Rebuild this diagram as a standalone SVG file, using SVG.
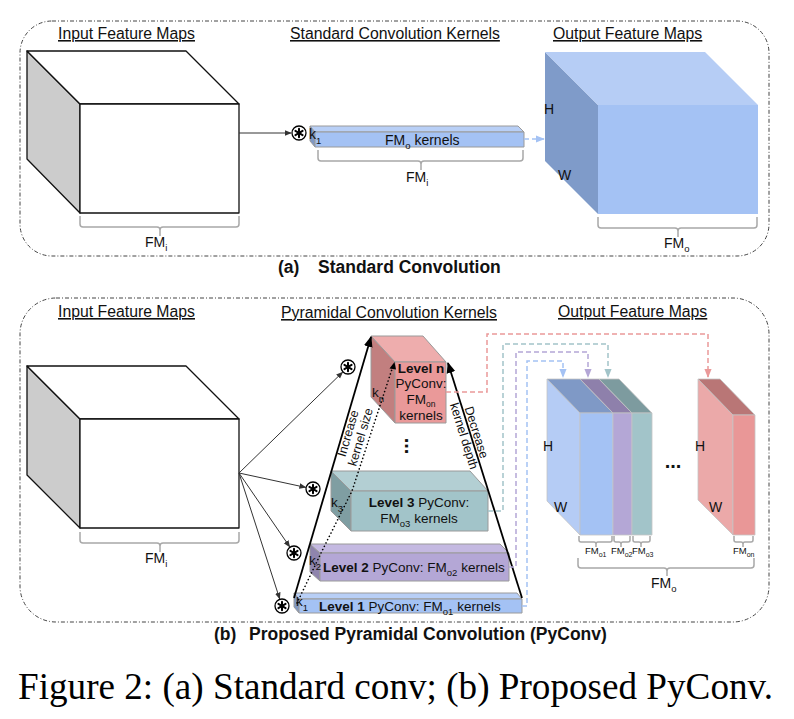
<svg xmlns="http://www.w3.org/2000/svg" width="794" height="719" viewBox="0 0 794 719">
<defs>
<style>
text{font-family:"Liberation Sans",Arial,sans-serif;fill:#111}
.title{font-size:15.8px;text-decoration:underline}
.lbl{font-size:14px}
.sm{font-size:9.5px}
.lv{font-size:13.5px}
.rot{font-size:12.5px}
.cap{font-size:17.5px;font-weight:bold}
.fig{font-family:"Liberation Serif","Times New Roman",serif;font-size:38px;fill:#000}
.b{font-weight:bold}
.border{fill:none;stroke:#444;stroke-width:1;stroke-dasharray:4 2 1 2}
.edge{stroke:#111;stroke-width:1.3;stroke-linejoin:round}
.box{stroke:#9a9a9a;stroke-width:1;stroke-linejoin:round}
.oblk{stroke:#c4c4c4;stroke-width:0.8;stroke-linejoin:round}
.brace{fill:none;stroke:#a8a8a8;stroke-width:1.5}
.conn{fill:none;stroke:#333;stroke-width:1}
.pyr{fill:none;stroke:#000;stroke-width:1.8}
.dot{fill:none;stroke:#000;stroke-width:1.6;stroke-dasharray:0.1 3.6;stroke-linecap:round}
.dash{fill:none;stroke-width:1.5;stroke-dasharray:5 3}
.op{fill:#fff;stroke:#000;stroke-width:1.3}
.ast{stroke:#000;stroke-width:2;stroke-linecap:round}
</style>
<marker id="ah" viewBox="0 0 10 10" refX="9" refY="5" markerWidth="7" markerHeight="7" orient="auto" markerUnits="userSpaceOnUse"><path d="M0,1 L10,5 L0,9 z" fill="#333"/></marker>
<marker id="ahB" viewBox="0 0 10 10" refX="9" refY="5" markerWidth="11" markerHeight="11" orient="auto" markerUnits="userSpaceOnUse"><path d="M0,1 L10,5 L0,9 z" fill="#000"/></marker>
<marker id="ahBlue" viewBox="0 0 10 10" refX="9" refY="5" markerWidth="9" markerHeight="9" orient="auto" markerUnits="userSpaceOnUse"><path d="M0,1 L10,5 L0,9 z" fill="#a4c2f4"/></marker>
<marker id="ahRed" viewBox="0 0 10 10" refX="9" refY="5" markerWidth="9" markerHeight="9" orient="auto" markerUnits="userSpaceOnUse"><path d="M0,1 L10,5 L0,9 z" fill="#ea9999"/></marker>
<marker id="ahTeal" viewBox="0 0 10 10" refX="9" refY="5" markerWidth="9" markerHeight="9" orient="auto" markerUnits="userSpaceOnUse"><path d="M0,1 L10,5 L0,9 z" fill="#a2c4c9"/></marker>
<marker id="ahPur" viewBox="0 0 10 10" refX="9" refY="5" markerWidth="9" markerHeight="9" orient="auto" markerUnits="userSpaceOnUse"><path d="M0,1 L10,5 L0,9 z" fill="#b4a7d6"/></marker>
<g id="opsym">
<circle class="op" cx="0" cy="0" r="7"/>
<line class="ast" x1="0" y1="-4.2" x2="0" y2="4.2"/>
<line class="ast" x1="-3.6" y1="-2.1" x2="3.6" y2="2.1"/>
<line class="ast" x1="-3.6" y1="2.1" x2="3.6" y2="-2.1"/>
</g>
</defs>
<rect width="794" height="719" fill="#fff"/>

<!-- ===== Panel (a) ===== -->
<g id="panel-a-border"><rect class="border" x="20" y="21" width="749" height="235" rx="32"/></g>

<g id="a-titles">
<text class="title" x="58" y="39">Input Feature Maps</text>
<text class="title" x="290" y="39">Standard Convolution Kernels</text>
<text class="title" x="553" y="39">Output Feature Maps</text>
</g>

<g id="a-input-cube">
<polygon class="edge" points="27,51 80,104 80,213 27,159" fill="#cccccc"/>
<polygon class="edge" points="27,51 186,51 239,104 80,104" fill="#fff"/>
<rect class="edge" x="80" y="104" width="159" height="109" fill="#fff"/>
<path class="brace" d="M80,216 V224 Q80,227 83,227 H157 Q160,227 160,230 V236 M160,230 Q160,227 163,227 H236 Q239,227 239,224 V216"/>
<text class="lbl" x="145" y="247">FM<tspan class="sm" dy="4">i</tspan></text>
</g>

<g id="a-kernel">
<polygon class="box" points="310,126 315,132 315,147 310,141" fill="#7f98c4"/>
<polygon class="box" points="310,126 518,126 524,132 315,132" fill="#b8cff6"/>
<rect class="box" x="315" y="132" width="209" height="15" fill="#a4c2f4"/>
<text class="lbl" x="309" y="139">k<tspan class="sm" dy="5">1</tspan></text>
<text class="lbl" x="385" y="145">FM<tspan class="sm" dy="4">o</tspan><tspan dy="-4"> kernels</tspan></text>
<path class="brace" d="M318,150 V158 Q318,161 321,161 H418 Q421,161 421,164 V170 M421,164 Q421,161 424,161 H520 Q523,161 523,158 V150"/>
<text class="lbl" x="406" y="182">FM<tspan class="sm" dy="4">i</tspan></text>
</g>

<g id="a-output-cube">
<polygon points="545,52 598,105 598,214 545,161" fill="#7f9bc9"/>
<polygon points="545,52 705,52 758,105 598,105" fill="#b6cdf5"/>
<rect x="598" y="105" width="160" height="109" fill="#a4c2f4"/>
<text class="lbl" x="544" y="114">H</text>
<text class="lbl" x="558" y="180">W</text>
<path class="brace" d="M598,217 V225 Q598,228 601,228 H675 Q678,228 678,231 V237 M678,231 Q678,228 681,228 H754 Q757,228 757,225 V217"/>
<text class="lbl" x="664" y="248">FM<tspan class="sm" dy="4">o</tspan></text>
</g>

<g id="a-connectors">
<line class="conn" x1="239" y1="133" x2="291" y2="133" marker-end="url(#ah)"/>
<path class="dash" stroke="#a4c2f4" d="M524,139 H544" marker-end="url(#ahBlue)"/>
</g>

<g id="a-op"><use href="#opsym" x="299" y="133"/></g>

<g id="a-caption">
<text class="cap" x="278" y="273">(a)</text>
<text class="cap" x="318" y="273">Standard Convolution</text>
</g>

<!-- ===== Panel (b) ===== -->
<g id="panel-b-border"><rect class="border" x="20" y="298" width="749" height="324" rx="36"/></g>

<g id="b-titles">
<text class="title" x="58" y="317">Input Feature Maps</text>
<text class="title" x="281" y="318">Pyramidal Convolution Kernels</text>
<text class="title" x="558" y="317">Output Feature Maps</text>
</g>

<g id="b-input-cube">
<polygon class="edge" points="27,366 80,419 80,528 27,475" fill="#cccccc"/>
<polygon class="edge" points="27,366 186,366 239,419 80,419" fill="#fff"/>
<rect class="edge" x="80" y="419" width="159" height="109" fill="#fff"/>
<path class="brace" d="M80,532 V540 Q80,543 83,543 H157 Q160,543 160,546 V552 M160,546 Q160,543 163,543 H236 Q239,543 239,540 V532"/>
<text class="lbl" x="145" y="563">FM<tspan class="sm" dy="4">i</tspan></text>
</g>

<g id="level-n">
<polygon class="box" points="371,336 395,362 395,423 371,397" fill="#c27f7f"/>
<polygon class="box" points="371,336 423,336 446,362 395,362" fill="#eeadad"/>
<rect class="box" x="395" y="362" width="51" height="61" fill="#ea9999"/>
<text class="lv b" x="421" y="373" text-anchor="middle">Level n</text>
<text class="lv" x="421" y="388" text-anchor="middle">PyConv:</text>
<text class="lv" x="421" y="404" text-anchor="middle">FM<tspan font-size="8.5px" dy="3">on</tspan></text>
<text class="lv" x="421" y="420" text-anchor="middle">kernels</text>
<text class="lv" x="372" y="397">k<tspan class="sm" dy="5">n</tspan></text>
</g>

<g id="vdots"><text x="406" y="446" font-size="20" font-weight="bold" text-anchor="middle" transform="rotate(90 406 446)" dy="1">...</text></g>

<g id="level-3">
<polygon class="box" points="331,471 351,491 351,531 331,511" fill="#7f9ea2"/>
<polygon class="box" points="331,471 470,471 488,491 351,491" fill="#b3cfd3"/>
<rect class="box" x="351" y="491" width="137" height="40" fill="#a2c4c9"/>
<text class="lv" x="419" y="507" text-anchor="middle"><tspan class="b">Level 3</tspan> PyConv:</text>
<text class="lv" x="419" y="523" text-anchor="middle">FM<tspan class="sm" dy="4">o3</tspan><tspan dy="-4"> kernels</tspan></text>
<text class="lv" x="331" y="507">k<tspan class="sm" dy="5">3</tspan></text>
</g>

<g id="level-2">
<polygon class="box" points="310,544 320,553 320,581 310,572" fill="#8f84ad"/>
<polygon class="box" points="310,544 500,544 509,553 320,553" fill="#c4b9e1"/>
<rect class="box" x="320" y="553" width="189" height="28" fill="#b4a7d6"/>
<text class="lv" x="323" y="572"><tspan class="b">Level 2</tspan> PyConv: FM<tspan class="sm" dy="4">o2</tspan><tspan dy="-4"> kernels</tspan></text>
<text class="lv" x="309" y="565">k<tspan class="sm" dy="5">2</tspan></text>
</g>

<g id="level-1">
<polygon class="box" points="294,593 299,599 299,613 294,607" fill="#7f98c4"/>
<polygon class="box" points="294,593 517,593 522,599 299,599" fill="#b8cff6"/>
<rect class="box" x="299" y="599" width="223" height="14" fill="#a4c2f4"/>
<text class="lv" x="319" y="611"><tspan class="b">Level 1</tspan> PyConv: FM<tspan class="sm" dy="4">o1</tspan><tspan dy="-4"> kernels</tspan></text>
<text class="lv" x="296" y="606">k<tspan class="sm" dy="5">1</tspan></text>
</g>

<g id="out-blue">
<polygon class="oblk" points="547,379 580,413 580,535 547,501" fill="#b5ccf5"/>
<polygon class="oblk" points="547,379 580,379 613,413 580,413" fill="#7f99c6"/>
<rect class="oblk" x="580" y="413" width="33" height="122" fill="#a4c2f4"/>
<text class="lbl" x="543" y="451">H</text>
<text class="lbl" x="554" y="512">W</text>
</g>
<g id="out-purple">
<polygon class="oblk" points="580,379 599,379 632,413 613,413" fill="#8e80ab"/>
<rect class="oblk" x="613" y="413" width="19" height="122" fill="#b4a7d6"/>
</g>
<g id="out-teal">
<polygon class="oblk" points="599,379 619,379 652,413 632,413" fill="#7d9b9f"/>
<rect class="oblk" x="632" y="413" width="20" height="122" fill="#a2c4c9"/>
</g>
<g id="out-ellipsis"><text x="673" y="468" font-size="20" font-weight="bold" text-anchor="middle">...</text></g>
<g id="out-red">
<polygon class="oblk" points="698,379 733,415 733,535 698,500" fill="#eba9a9"/>
<polygon class="oblk" points="698,379 720,379 755,415 733,415" fill="#b97676"/>
<rect class="oblk" x="733" y="415" width="22" height="120" fill="#e99797"/>
<text class="lbl" x="695" y="451">H</text>
<text class="lbl" x="709" y="512">W</text>
</g>

<g id="out-braces">
<path class="brace" d="M579,536 V540 Q579,542 581,542 H594 Q596,542 596,544 V547 M596,544 Q596,542 598,542 H610 Q612,542 612,540 V536"/>
<path class="brace" d="M614,536 V540 Q614,542 616,542 H619 Q621,542 621,544 V547 M621,544 Q621,542 623,542 H628 Q630,542 630,540 V536"/>
<path class="brace" d="M633,536 V540 Q633,542 635,542 H639 Q641,542 641,544 V547 M641,544 Q641,542 643,542 H648 Q650,542 650,540 V536"/>
<path class="brace" d="M734,536 V540 Q734,542 736,542 H741 Q743,542 743,544 V547 M743,544 Q743,542 745,542 H751 Q753,542 753,540 V536"/>
<text class="sm" x="585" y="554">FM<tspan font-size="7px" dy="3">o1</tspan></text>
<text class="sm" x="611" y="554">FM<tspan font-size="7px" dy="3">o2</tspan></text>
<text class="sm" x="632" y="554">FM<tspan font-size="7px" dy="3">o3</tspan></text>
<text class="sm" x="733" y="554">FM<tspan font-size="7px" dy="3">on</tspan></text>
<path class="brace" d="M578,558 V565 Q578,568 581,568 H664 Q667,568 667,571 V576 M667,571 Q667,568 670,568 H751 Q754,568 754,565 V558"/>
<text class="lbl" x="651" y="588">FM<tspan class="sm" dy="4">o</tspan></text>
</g>

<g id="b-connectors">
<line class="conn" x1="239" y1="473" x2="342.6" y2="372.2" marker-end="url(#ah)"/>
<line class="conn" x1="239" y1="473" x2="305.7" y2="487.4" marker-end="url(#ah)"/>
<line class="conn" x1="239" y1="473" x2="289.7" y2="546.8" marker-end="url(#ah)"/>
<line class="conn" x1="239" y1="473" x2="279.7" y2="598.9" marker-end="url(#ah)"/>
<line class="pyr" x1="294" y1="598" x2="371" y2="337" marker-end="url(#ahB)"/>
<line class="pyr" x1="522" y1="598" x2="448" y2="363" marker-end="url(#ahB)"/>
<polyline class="dot" points="297,603 322,551 352,491 393,366"/>
<path d="M394.5,362 L389.5,368.5 L396,369.5 z" fill="#000"/>
<path class="dash" stroke="#ea9999" d="M446,392 H487 V334 H708 V377" marker-end="url(#ahRed)"/>
<path class="dash" stroke="#a2c4c9" d="M488,511 H503 V344 H608 V377" marker-end="url(#ahTeal)"/>
<path class="dash" stroke="#b4a7d6" d="M509,567 H516 V352 H588 V377" marker-end="url(#ahPur)"/>
<path class="dash" stroke="#a4c2f4" d="M522,606 H527 V361 H563 V377" marker-end="url(#ahBlue)"/>
</g>

<g id="b-ops">
<use href="#opsym" x="348" y="367"/>
<use href="#opsym" x="313" y="489"/>
<use href="#opsym" x="294" y="553"/>
<use href="#opsym" x="282" y="606"/>
</g>

<g id="pyr-labels">
<g transform="translate(352,434.5) rotate(-73.6)">
<text class="rot" x="0" y="0" text-anchor="middle">Increase</text>
<text class="rot" x="0" y="13" text-anchor="middle">kernel size</text>
</g>
<g transform="translate(472.5,433.5) rotate(72.6)">
<text class="rot" x="0" y="0" text-anchor="middle">Decrease</text>
<text class="rot" x="0" y="13" text-anchor="middle">kernel depth</text>
</g>
</g>

<g id="b-caption">
<text class="cap" x="214" y="640">(b)</text>
<text class="cap" x="249" y="640">Proposed Pyramidal Convolution (PyConv)</text>
</g>

<g id="figure-caption">
<text class="fig" x="18" y="699" textLength="755" lengthAdjust="spacingAndGlyphs">Figure 2: (a) Standard conv; (b) Proposed PyConv.</text>
</g>
</svg>
